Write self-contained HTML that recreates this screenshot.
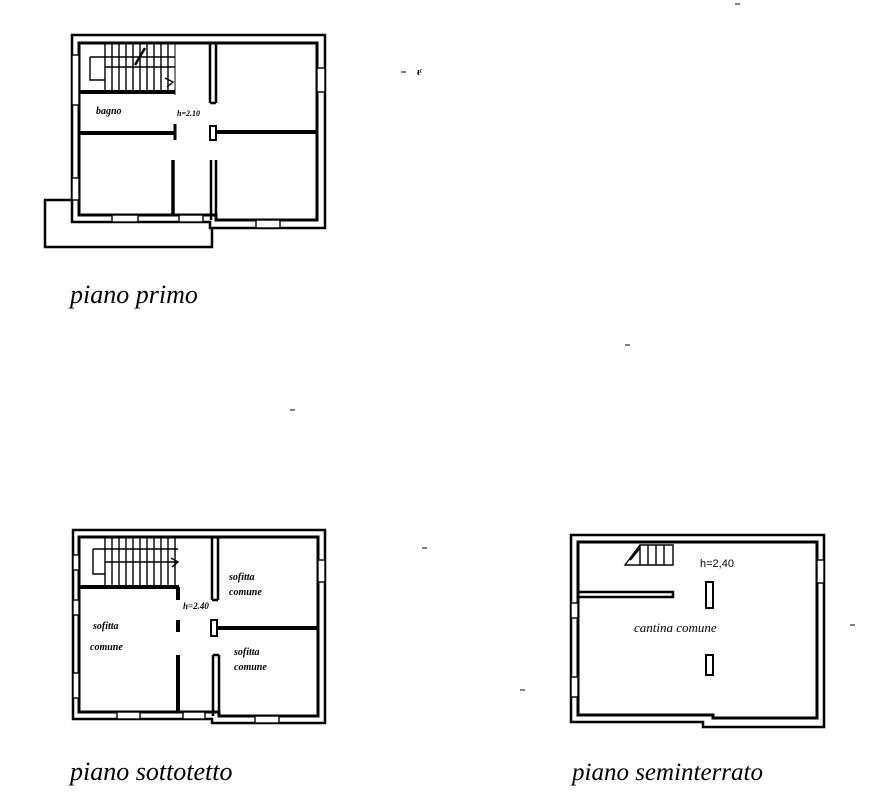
<!DOCTYPE html>
<html><head><meta charset="utf-8"><style>
html,body{margin:0;padding:0;background:#fff;}
svg{display:block;}
.t{font-family:"Liberation Serif",serif;font-style:italic;fill:#000;}
</style></head><body>
<svg width="872" height="808" viewBox="0 0 872 808" xmlns="http://www.w3.org/2000/svg">
<g fill="none" stroke="#000" stroke-width="2.5">
<!-- ===== PIANO PRIMO ===== -->
<path d="M72,35 H325 V228 H210 V222 H72 Z"/>
<path d="M79,43 H317 V220 H216 V215 H79 Z" stroke-width="3"/>
<path d="M72,200 H45 V247 H212 V228"/>
<line x1="79" y1="92" x2="175" y2="92" stroke-width="4"/>
<line x1="175" y1="43" x2="175" y2="95" stroke-width="1"/>
<path d="M105,43 V92 M112,43 V92 M119,43 V92 M126,43 V92 M133,43 V92 M140,43 V92 M147,43 V92 M154,43 V92 M161,43 V92 M168,43 V92" stroke-width="1.4"/>
<path d="M90,57 H175 M90,57 V80 H105 M105,67 H175" stroke-width="1.4"/>
<line x1="135" y1="65" x2="145" y2="48" stroke-width="2.5"/>
<path d="M165,78 L173,82 L167,87" stroke-width="1.4"/>
<path d="M210,43 V103 M216,43 V103 M210,103 H216" stroke-width="2.5"/>
<line x1="79" y1="133" x2="175" y2="133" stroke-width="4"/>
<line x1="175" y1="124" x2="175" y2="140" stroke-width="3"/>
<line x1="173" y1="160" x2="173" y2="215" stroke-width="3.5"/>
<rect x="210" y="126" width="6" height="14" stroke-width="2"/>
<line x1="216" y1="132" x2="317" y2="132" stroke-width="4"/>
<path d="M211,160 V220 M216,160 V220" stroke-width="2.5"/>
<g stroke-width="1.4" fill="#fff">
<rect x="72" y="55" width="7" height="50"/>
<rect x="72" y="178" width="7" height="22"/>
<rect x="112" y="215" width="26" height="7"/>
<rect x="179" y="215" width="24" height="7"/>
<rect x="256" y="220" width="24" height="8"/>
<rect x="317" y="68" width="8" height="24"/>
</g>
<!-- ===== PIANO SOTTOTETTO ===== -->
<path d="M73,530 H325 V723 H212 V719 H73 Z"/>
<path d="M79,537 H318 V716 H219 V712 H79 Z" stroke-width="3"/>
<path d="M105,537 V587 M112,537 V587 M119,537 V587 M126,537 V587 M133,537 V587 M140,537 V587 M147,537 V587 M154,537 V587 M161,537 V587 M168,537 V587 M175,537 V587" stroke-width="1.4"/>
<path d="M93,549 H178 M93,549 V574 H105 M105,562 H178" stroke-width="1.4"/>
<path d="M171,558 L178,562 L172,567" stroke-width="1.4"/>
<line x1="79" y1="587" x2="179" y2="587" stroke-width="4"/>
<line x1="178" y1="587" x2="178" y2="600" stroke-width="4"/>
<line x1="178" y1="620" x2="178" y2="632" stroke-width="4"/>
<line x1="178" y1="655" x2="178" y2="712" stroke-width="4"/>
<path d="M212,537 V600 M218,537 V600 M212,600 H218" stroke-width="2.5"/>
<rect x="211" y="620" width="6" height="16" stroke-width="2"/>
<line x1="217" y1="628" x2="318" y2="628" stroke-width="4"/>
<path d="M213,655 V716 M219,655 V716 M213,655 H219" stroke-width="2.5"/>
<g stroke-width="1.4" fill="#fff">
<rect x="73" y="555" width="6" height="15"/>
<rect x="73" y="600" width="6" height="15"/>
<rect x="73" y="673" width="6" height="25"/>
<rect x="117" y="712" width="23" height="7"/>
<rect x="183" y="712" width="22" height="7"/>
<rect x="255" y="716" width="24" height="7"/>
<rect x="318" y="560" width="7" height="22"/>
</g>
<!-- ===== PIANO SEMINTERRATO ===== -->
<path d="M571,535 H824 V727 H703 V722 H571 Z"/>
<path d="M578,542 H817 V718 H713 V715 H578 Z" stroke-width="3"/>
<path d="M578,592 H673 V597 H578" stroke-width="2.5"/>
<rect x="706" y="582" width="7" height="26" stroke-width="2"/>
<rect x="706" y="655" width="7" height="20" stroke-width="2"/>
<path d="M625,565 L640,545 H673 V565 Z" stroke-width="1.4"/>
<path d="M640,545 V565 M648,545 V565 M656,545 V565 M664,545 V565" stroke-width="1.4"/>
<line x1="630" y1="560" x2="640" y2="548" stroke-width="1.8"/>
<g stroke-width="1.4" fill="#fff">
<rect x="817" y="560" width="7" height="23"/>
<rect x="571" y="603" width="7" height="15"/>
<rect x="571" y="677" width="7" height="20"/>
</g>
</g>
<g stroke="#000" stroke-width="1">
<line x1="401" y1="72" x2="406" y2="72"/>
<line x1="735" y1="4" x2="740" y2="4"/>
<line x1="625" y1="345" x2="630" y2="345"/>
<line x1="290" y1="410" x2="295" y2="410"/>
<line x1="422" y1="548" x2="427" y2="548"/>
<line x1="850" y1="625" x2="855" y2="625"/>
<line x1="520" y1="690" x2="525" y2="690"/>
</g>
<text x="417" y="75" class="t" font-size="10" font-weight="bold">ᵼᵗ</text>
<g class="t" font-weight="bold">
<text x="96" y="114" font-size="10">bagno</text>
<text x="177" y="116" font-size="8">h=2.10</text>
<text x="183" y="609" font-size="9">h=2.40</text>
<text x="93" y="629" font-size="10">sofitta</text>
<text x="90" y="650" font-size="10">comune</text>
<text x="229" y="580" font-size="10">sofitta</text>
<text x="229" y="595" font-size="10">comune</text>
<text x="234" y="655" font-size="10">sofitta</text>
<text x="234" y="670" font-size="10">comune</text>
</g>
<text x="700" y="567" font-size="11" font-family="Liberation Sans" fill="#000">h=2,40</text>
<text x="634" y="632" class="t" font-size="13">cantina  comune</text>
<text x="70" y="303" class="t" font-size="26">piano primo</text>
<text x="70" y="780" class="t" font-size="26">piano sottotetto</text>
<text x="572" y="780" class="t" font-size="25">piano seminterrato</text>
</svg>
</body></html>
